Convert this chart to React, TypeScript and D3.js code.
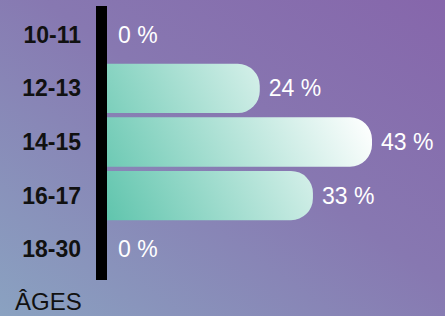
import React from "react";
import * as d3 from "d3";

const categories = ["10-11", "12-13", "14-15", "16-17", "18-30"];
const values = [0, 24, 43, 33, 0];
const valueLabels = ["0 %", "24 %", "43 %", "33 %", "0 %"];
const axisTitle = "ÂGES";

const W = 445;
const H = 316;

export default function App() {
  const y = d3
    .scaleBand<string>()
    .domain(categories)
    .range([8, 276])
    .paddingInner(0.08)
    .paddingOuter(0.04);
  const x = d3.scaleLinear().domain([0, 43]).range([118, 372]);
  const barStart = 100;
  const r = 22;
  const font = "'Liberation Sans', Arial, sans-serif";

  const barPath = (v: number, cat: string) => {
    const y0 = y(cat)!;
    const h = y.bandwidth();
    const x1 = x(v);
    const p = d3.path();
    p.moveTo(barStart, y0);
    p.lineTo(x1 - r, y0);
    p.arcTo(x1, y0, x1, y0 + r, r);
    p.lineTo(x1, y0 + h - r);
    p.arcTo(x1, y0 + h, x1 - r, y0 + h, r);
    p.lineTo(barStart, y0 + h);
    p.closePath();
    return p.toString();
  };

  return (
    <svg
      width={W}
      height={H}
      style={{ position: "absolute", left: 0, top: 0, display: "block" }}
    >
      <defs>
        <linearGradient id="bg" x1="0" y1="1" x2="1" y2="0">
          <stop offset="0%" stopColor="#8aa2c1" />
          <stop offset="55%" stopColor="#8778b1" />
          <stop offset="100%" stopColor="#8666ab" />
        </linearGradient>
        <linearGradient
          id="barGrad"
          gradientUnits="userSpaceOnUse"
          x1={107}
          y1={228}
          x2={360}
          y2={100}
        >
          <stop offset="0%" stopColor="#5ec4ac" />
          <stop offset="100%" stopColor="#ffffff" />
        </linearGradient>
      </defs>
      <rect x={0} y={0} width={W} height={H} fill="url(#bg)" />
      {categories.map((c, i) =>
        values[i] > 0 ? (
          <path key={"b" + c} d={barPath(values[i], c)} fill="url(#barGrad)" />
        ) : null
      )}
      <rect x={96} y={6} width={11} height={274} fill="#000" />
      {categories.map((c) => (
        <text
          key={"c" + c}
          x={81}
          y={y(c)! + y.bandwidth() / 2 + 8}
          textAnchor="end"
          fontFamily={font}
          fontWeight="bold"
          fontSize={23}
          fill="#111"
        >
          {c}
        </text>
      ))}
      {categories.map((c, i) => (
        <text
          key={"v" + c}
          x={x(values[i]) + (values[i] > 0 ? 9 : 0)}
          y={y(c)! + y.bandwidth() / 2 + 8}
          fontFamily={font}
          fontSize={23}
          fill="#fff"
        >
          {valueLabels[i]}
        </text>
      ))}
      <text x={15} y={310} fontFamily={font} fontSize={24} fill="#111">
        {axisTitle}
      </text>
    </svg>
  );
}
